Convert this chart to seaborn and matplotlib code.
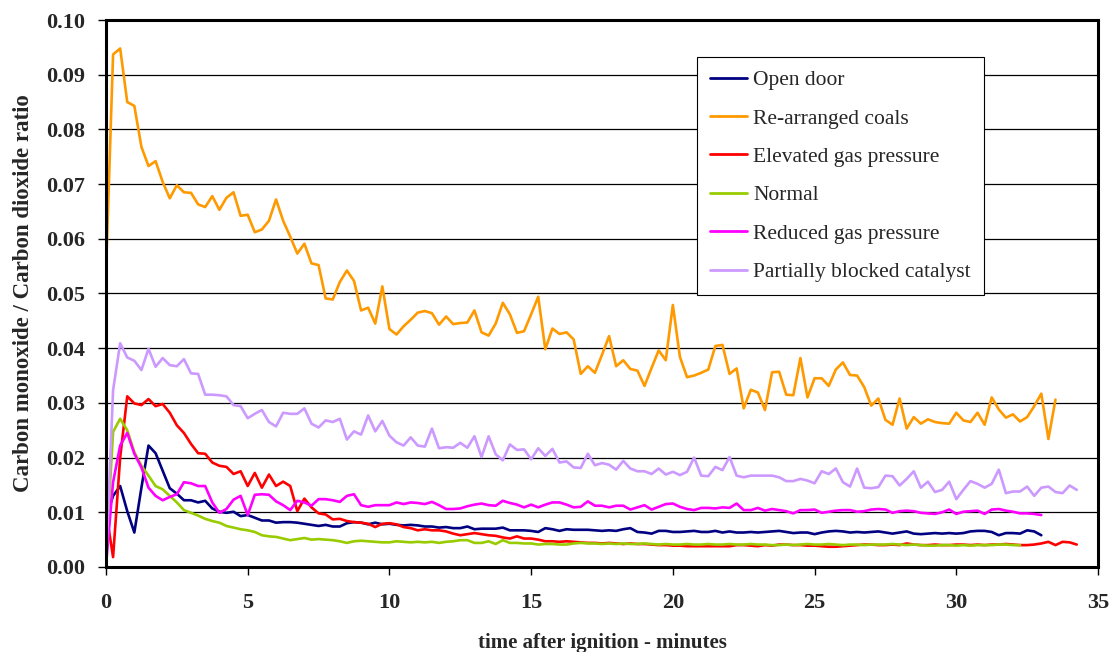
import numpy as np
import pandas as pd
import matplotlib
matplotlib.use("Agg")
import matplotlib.pyplot as plt
import seaborn as sns

# Sampling interval of the analyser log (minutes)
STEP = 0.25

open_door = [
    0.0090, 0.0130, 0.0148, 0.0102, 0.0063, 0.0145, 0.0222, 0.0208, 0.0176, 0.0144,
    0.0134, 0.0122, 0.0122, 0.0118, 0.0121, 0.0107, 0.0101, 0.0099, 0.0101, 0.0093,
    0.0095, 0.0090, 0.0085, 0.0085, 0.0081, 0.0082, 0.0082, 0.0081, 0.0079, 0.0077,
    0.0075, 0.0077, 0.0074, 0.0074, 0.0080, 0.0082, 0.0081, 0.0078, 0.0081, 0.0078,
    0.0079, 0.0077, 0.0076, 0.0077, 0.0076, 0.0074, 0.0074, 0.0072, 0.0073, 0.0071,
    0.0071, 0.0074, 0.0069, 0.0070, 0.0070, 0.0070, 0.0072, 0.0067, 0.0067, 0.0067,
    0.0066, 0.0064, 0.0071, 0.0069, 0.0066, 0.0069, 0.0068, 0.0068, 0.0068, 0.0067,
    0.0066, 0.0067, 0.0066, 0.0069, 0.0071, 0.0064, 0.0063, 0.0061, 0.0066, 0.0066,
    0.0064, 0.0064, 0.0065, 0.0066, 0.0064, 0.0064, 0.0066, 0.0063, 0.0065, 0.0063,
    0.0063, 0.0064, 0.0063, 0.0064, 0.0065, 0.0066, 0.0064, 0.0062, 0.0063, 0.0063,
    0.0060, 0.0063, 0.0065, 0.0066, 0.0065, 0.0063, 0.0064, 0.0063, 0.0064, 0.0065,
    0.0063, 0.0061, 0.0063, 0.0065, 0.0061, 0.0060, 0.0061, 0.0062, 0.0061, 0.0062,
    0.0061, 0.0062, 0.0065, 0.0066, 0.0066, 0.0064, 0.0058, 0.0062, 0.0062, 0.0061,
    0.0067, 0.0065, 0.0058,
]

rearranged_coals = [
    0.0538, 0.0937, 0.0948, 0.0850, 0.0843, 0.0768, 0.0733, 0.0742, 0.0704, 0.0674,
    0.0698, 0.0685, 0.0684, 0.0663, 0.0658, 0.0678, 0.0653, 0.0675, 0.0685, 0.0642,
    0.0644, 0.0612, 0.0617, 0.0633, 0.0672, 0.0633, 0.0604, 0.0573, 0.0591, 0.0555,
    0.0552, 0.0491, 0.0489, 0.0521, 0.0542, 0.0523, 0.0469, 0.0474, 0.0445, 0.0513,
    0.0435, 0.0425, 0.0440, 0.0452, 0.0465, 0.0468, 0.0464, 0.0443, 0.0458, 0.0444,
    0.0446, 0.0447, 0.0469, 0.0429, 0.0423, 0.0445, 0.0483, 0.0462, 0.0428, 0.0431,
    0.0462, 0.0494, 0.0398, 0.0436, 0.0426, 0.0429, 0.0416, 0.0353, 0.0367, 0.0355,
    0.0388, 0.0422, 0.0367, 0.0378, 0.0362, 0.0359, 0.0331, 0.0364, 0.0396, 0.0378,
    0.0479, 0.0384, 0.0347, 0.0350, 0.0355, 0.0361, 0.0404, 0.0406, 0.0353, 0.0363,
    0.0290, 0.0324, 0.0319, 0.0287, 0.0356, 0.0357, 0.0315, 0.0314, 0.0382, 0.0310,
    0.0345, 0.0345, 0.0331, 0.0361, 0.0374, 0.0351, 0.0350, 0.0329, 0.0295, 0.0308,
    0.0269, 0.0260, 0.0308, 0.0253, 0.0274, 0.0262, 0.0270, 0.0265, 0.0263, 0.0262,
    0.0282, 0.0268, 0.0265, 0.0282, 0.0260, 0.0310, 0.0288, 0.0273, 0.0279, 0.0266,
    0.0274, 0.0294, 0.0317, 0.0234, 0.0306,
]

elevated_gas = [
    0.0102, 0.0018, 0.0200, 0.0312, 0.0299, 0.0296, 0.0307, 0.0294, 0.0298, 0.0282,
    0.0259, 0.0245, 0.0225, 0.0208, 0.0207, 0.0191, 0.0185, 0.0183, 0.0170, 0.0175,
    0.0148, 0.0172, 0.0145, 0.0169, 0.0148, 0.0156, 0.0148, 0.0102, 0.0125, 0.0109,
    0.0098, 0.0096, 0.0087, 0.0088, 0.0084, 0.0082, 0.0081, 0.0079, 0.0073, 0.0079,
    0.0080, 0.0078, 0.0073, 0.0071, 0.0067, 0.0069, 0.0067, 0.0067, 0.0065, 0.0061,
    0.0058, 0.0060, 0.0062, 0.0060, 0.0058, 0.0057, 0.0054, 0.0052, 0.0056, 0.0052,
    0.0052, 0.0050, 0.0047, 0.0047, 0.0046, 0.0047, 0.0046, 0.0045, 0.0044, 0.0044,
    0.0043, 0.0044, 0.0043, 0.0042, 0.0043, 0.0042, 0.0042, 0.0041, 0.0040, 0.0040,
    0.0039, 0.0039, 0.0038, 0.0038, 0.0038, 0.0038, 0.0038, 0.0038, 0.0038, 0.0040,
    0.0040, 0.0039, 0.0038, 0.0040, 0.0039, 0.0041, 0.0041, 0.0040, 0.0040, 0.0039,
    0.0039, 0.0038, 0.0037, 0.0037, 0.0038, 0.0039, 0.0040, 0.0041, 0.0041, 0.0040,
    0.0040, 0.0041, 0.0040, 0.0043, 0.0041, 0.0040, 0.0040, 0.0041, 0.0040, 0.0040,
    0.0041, 0.0041, 0.0040, 0.0041, 0.0040, 0.0041, 0.0041, 0.0042, 0.0041, 0.0040,
    0.0040, 0.0041, 0.0043, 0.0046, 0.0040, 0.0046, 0.0045, 0.0041,
]

normal = [
    0.0020, 0.0247, 0.0271, 0.0250, 0.0210, 0.0185, 0.0167, 0.0148, 0.0142, 0.0130,
    0.0118, 0.0104, 0.0099, 0.0094, 0.0088, 0.0084, 0.0081, 0.0075, 0.0072, 0.0069,
    0.0067, 0.0064, 0.0058, 0.0056, 0.0055, 0.0052, 0.0049, 0.0051, 0.0053, 0.0050,
    0.0051, 0.0050, 0.0049, 0.0047, 0.0044, 0.0047, 0.0048, 0.0047, 0.0046, 0.0045,
    0.0045, 0.0047, 0.0046, 0.0045, 0.0046, 0.0045, 0.0046, 0.0044, 0.0046, 0.0047,
    0.0049, 0.0049, 0.0044, 0.0044, 0.0047, 0.0042, 0.0049, 0.0044, 0.0044, 0.0043,
    0.0043, 0.0041, 0.0042, 0.0042, 0.0041, 0.0041, 0.0043, 0.0044, 0.0043, 0.0043,
    0.0042, 0.0043, 0.0042, 0.0043, 0.0042, 0.0042, 0.0043, 0.0042, 0.0041, 0.0042,
    0.0041, 0.0041, 0.0042, 0.0041, 0.0041, 0.0042, 0.0041, 0.0041, 0.0042, 0.0041,
    0.0041, 0.0042, 0.0041, 0.0041, 0.0040, 0.0040, 0.0041, 0.0040, 0.0041, 0.0042,
    0.0041, 0.0041, 0.0042, 0.0041, 0.0040, 0.0041, 0.0041, 0.0040, 0.0041, 0.0041,
    0.0041, 0.0042, 0.0041, 0.0040, 0.0041, 0.0040, 0.0039, 0.0039, 0.0040, 0.0040,
    0.0039, 0.0040, 0.0039, 0.0040, 0.0040, 0.0040, 0.0041, 0.0041, 0.0040, 0.0040,
]

reduced_gas = [
    0.0003, 0.0155, 0.0222, 0.0245, 0.0207, 0.0182, 0.0145, 0.0130, 0.0122, 0.0128,
    0.0133, 0.0155, 0.0153, 0.0148, 0.0148, 0.0118, 0.0099, 0.0106, 0.0123, 0.0130,
    0.0095, 0.0132, 0.0133, 0.0132, 0.0120, 0.0113, 0.0104, 0.0121, 0.0118, 0.0112,
    0.0124, 0.0124, 0.0122, 0.0119, 0.0130, 0.0133, 0.0113, 0.0110, 0.0113, 0.0113,
    0.0113, 0.0118, 0.0115, 0.0118, 0.0117, 0.0115, 0.0119, 0.0113, 0.0106, 0.0106,
    0.0107, 0.0111, 0.0114, 0.0116, 0.0113, 0.0112, 0.0121, 0.0117, 0.0114, 0.0109,
    0.0114, 0.0109, 0.0114, 0.0118, 0.0118, 0.0114, 0.0109, 0.0110, 0.0120, 0.0112,
    0.0112, 0.0109, 0.0112, 0.0112, 0.0105, 0.0109, 0.0113, 0.0105, 0.0110, 0.0115,
    0.0116, 0.0110, 0.0106, 0.0104, 0.0108, 0.0108, 0.0107, 0.0109, 0.0108, 0.0116,
    0.0104, 0.0104, 0.0108, 0.0103, 0.0106, 0.0104, 0.0102, 0.0098, 0.0104, 0.0104,
    0.0105, 0.0099, 0.0101, 0.0103, 0.0104, 0.0104, 0.0101, 0.0102, 0.0105, 0.0106,
    0.0105, 0.0099, 0.0102, 0.0103, 0.0102, 0.0099, 0.0098, 0.0097, 0.0100, 0.0105,
    0.0097, 0.0101, 0.0102, 0.0103, 0.0097, 0.0105, 0.0106, 0.0103, 0.0101, 0.0098,
    0.0098, 0.0097, 0.0095,
]

blocked_catalyst = [
    0.0005, 0.0323, 0.0409, 0.0383, 0.0377, 0.0360, 0.0399, 0.0366, 0.0382, 0.0369,
    0.0367, 0.0380, 0.0354, 0.0353, 0.0315, 0.0315, 0.0314, 0.0312, 0.0296, 0.0294,
    0.0272, 0.0280, 0.0287, 0.0265, 0.0257, 0.0282, 0.0280, 0.0280, 0.0290, 0.0262,
    0.0255, 0.0268, 0.0265, 0.0271, 0.0233, 0.0248, 0.0242, 0.0277, 0.0248, 0.0267,
    0.0240, 0.0228, 0.0222, 0.0237, 0.0222, 0.0220, 0.0253, 0.0217, 0.0219, 0.0218,
    0.0227, 0.0218, 0.0239, 0.0201, 0.0239, 0.0206, 0.0195, 0.0224, 0.0214, 0.0215,
    0.0197, 0.0217, 0.0203, 0.0216, 0.0191, 0.0193, 0.0182, 0.0181, 0.0207, 0.0186,
    0.0190, 0.0187, 0.0178, 0.0194, 0.0180, 0.0175, 0.0175, 0.0170, 0.0180, 0.0169,
    0.0174, 0.0168, 0.0174, 0.0200, 0.0167, 0.0166, 0.0183, 0.0177, 0.0201, 0.0167,
    0.0164, 0.0167, 0.0167, 0.0167, 0.0167, 0.0164, 0.0157, 0.0157, 0.0161, 0.0158,
    0.0153, 0.0175, 0.0170, 0.0180, 0.0155, 0.0147, 0.0180, 0.0145, 0.0144, 0.0146,
    0.0167, 0.0166, 0.0149, 0.0161, 0.0175, 0.0145, 0.0156, 0.0137, 0.0141, 0.0156,
    0.0124, 0.0141, 0.0157, 0.0152, 0.0145, 0.0152, 0.0178, 0.0135, 0.0138, 0.0138,
    0.0147, 0.0130, 0.0145, 0.0147, 0.0137, 0.0135, 0.0149, 0.0141,
]

series_names = [
    "Open door",
    "Re-arranged coals",
    "Elevated gas pressure",
    "Normal",
    "Reduced gas pressure",
    "Partially blocked catalyst",
]
series_values = [open_door, rearranged_coals, elevated_gas, normal,
                 reduced_gas, blocked_catalyst]
series_colors = ["#000080", "#FF9900", "#FF0000", "#99CC00", "#FF00FF", "#CC99FF"]

x_ticks = [0, 5, 10, 15, 20, 25, 30, 35]
y_ticks = [0.00, 0.01, 0.02, 0.03, 0.04, 0.05, 0.06, 0.07, 0.08, 0.09, 0.10]

# Long-form table: one row per logged reading
frames = []
for name, vals in zip(series_names, series_values):
    frames.append(pd.DataFrame({
        "time": np.arange(len(vals)) * STEP,
        "ratio": vals,
        "test": name,
    }))
data = pd.concat(frames, ignore_index=True)

sns.set_theme(style="white")
plt.rcParams["font.family"] = ["Liberation Serif", "DejaVu Serif"]

fig = plt.figure(figsize=(11.11, 6.52), dpi=100)
ax = fig.add_axes([0.0954, 0.1304, 0.8929, 0.8389])

sns.lineplot(
    data=data, x="time", y="ratio", hue="test",
    hue_order=series_names, palette=series_colors,
    estimator=None, sort=False, linewidth=1.9, ax=ax,
)

ax.set_xlim(0, 35)
ax.set_ylim(0, 0.10)
ax.set_xticks(x_ticks)
ax.set_yticks(y_ticks)
ax.set_xticklabels([str(v) for v in x_ticks])
ax.set_yticklabels([f"{v:.2f}" for v in y_ticks])

ax.grid(False)
ax.yaxis.grid(True, color="black", linewidth=0.9)
ax.set_axisbelow(True)

for side in ["left", "bottom", "top", "right"]:
    ax.spines[side].set_visible(True)
    ax.spines[side].set_color("black")
    ax.spines[side].set_linewidth(2.2)

ax.tick_params(axis="both", which="major", direction="out", length=6,
               width=1.0, color="black", bottom=True, left=True)
ax.tick_params(axis="x", pad=13)
ax.tick_params(axis="y", pad=9)
for lab in ax.get_xticklabels() + ax.get_yticklabels():
    lab.set_fontsize(16)
    lab.set_fontweight("bold")

ax.set_xlabel("time after ignition - minutes", fontsize=15, fontweight="bold",
              labelpad=14)
ax.set_ylabel("Carbon monoxide / Carbon dioxide ratio", fontsize=16.5,
              fontweight="bold", labelpad=9)

leg = ax.legend(
    loc="upper left", bbox_to_anchor=(0.596, 0.932), borderaxespad=0,
    frameon=True, fancybox=False, shadow=False, framealpha=1,
    edgecolor="black", fontsize=15.5, handlelength=1.7, handletextpad=0.3,
    labelspacing=0.85, borderpad=0.6,
)
leg.get_frame().set_linewidth(0.8)
for line in leg.get_lines():
    line.set_linewidth(2.0)

fig.savefig("out.png", dpi=100)
